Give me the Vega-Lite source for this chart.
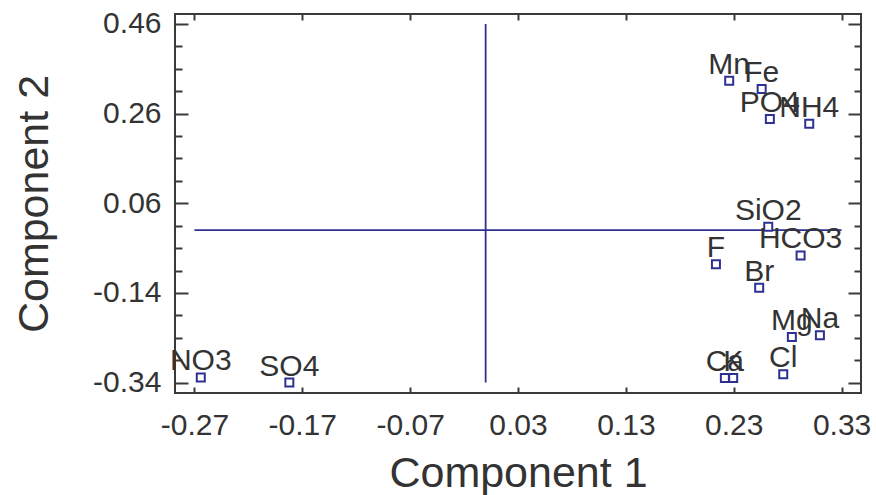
{
  "$schema": "https://vega.github.io/schema/vega-lite/v6.json",
  "width": 686,
  "height": 379,
  "autosize": "none",
  "padding": {"left": 175, "top": 14, "right": 15, "bottom": 102},
  "background": "white",
  "config": {
    "view": {"stroke": "#3a3a3a", "strokeWidth": 2},
    "font": "Liberation Sans",
    "axis": {"grid": false, "domain": false, "tickColor": "#3a3a3a", "tickWidth": 2, "labelColor": "#333333", "titleColor": "#333333", "labelFont": "Liberation Sans", "titleFont": "Liberation Sans", "titleFontWeight": "normal", "labelFontSize": 30, "titleFontSize": 43}
  },
  "datasets": {
    "points": [
      {"name": "Mn", "c1": 0.2258, "c2": 0.3334},
      {"name": "Fe", "c1": 0.2559, "c2": 0.3149},
      {"name": "PO4", "c1": 0.2635, "c2": 0.248},
      {"name": "NH4", "c1": 0.300, "c2": 0.2375},
      {"name": "SiO2", "c1": 0.262, "c2": 0.0076},
      {"name": "HCO3", "c1": 0.292, "c2": -0.0563},
      {"name": "F", "c1": 0.2135, "c2": -0.0757},
      {"name": "Br", "c1": 0.2536, "c2": -0.1286},
      {"name": "Mg", "c1": 0.2839, "c2": -0.238},
      {"name": "Na", "c1": 0.3099, "c2": -0.2342},
      {"name": "Cl", "c1": 0.2759, "c2": -0.3213},
      {"name": "Ca", "c1": 0.2218, "c2": -0.3295},
      {"name": "K", "c1": 0.2295, "c2": -0.3295},
      {"name": "NO3", "c1": -0.2641, "c2": -0.3286},
      {"name": "SO4", "c1": -0.182, "c2": -0.3398}
    ],
    "hline": [{"x": -0.27, "x2": 0.33, "y": 0}],
    "vline": [{"x": 0, "y": -0.34, "y2": 0.46}]
  },
  "layer": [
    {
      "data": {"name": "hline"},
      "mark": {"type": "rule", "color": "#2e3192", "strokeWidth": 1.8},
      "encoding": {
        "x": {"field": "x", "type": "quantitative", "scale": {"domain": [-0.288, 0.348], "nice": false, "zero": false}, "axis": null},
        "x2": {"field": "x2"},
        "y": {"field": "y", "type": "quantitative", "scale": {"domain": [-0.3632, 0.4823], "nice": false, "zero": false}, "axis": null}
      }
    },
    {
      "data": {"name": "vline"},
      "mark": {"type": "rule", "color": "#2e3192", "strokeWidth": 1.8},
      "encoding": {
        "x": {"field": "x", "type": "quantitative", "scale": {"domain": [-0.288, 0.348], "nice": false, "zero": false}, "axis": null},
        "y": {"field": "y", "type": "quantitative", "scale": {"domain": [-0.3632, 0.4823], "nice": false, "zero": false}, "axis": null},
        "y2": {"field": "y2"}
      }
    },
    {
      "data": {"name": "points"},
      "mark": {"type": "point", "shape": "square", "size": 64, "filled": false, "fill": "white", "fillOpacity": 1, "stroke": "#2e3192", "strokeWidth": 2, "opacity": 1},
      "encoding": {
        "x": {"field": "c1", "type": "quantitative", "scale": {"domain": [-0.288, 0.348], "nice": false, "zero": false},
          "axis": {"orient": "bottom", "title": "Component 1", "values": [-0.27, -0.17, -0.07, 0.03, 0.13, 0.23, 0.33], "tickSize": -6, "labelPadding": 23, "labelExpr": "replace(format(datum.value, '.2f'), '\u2212', '-')", "titlePadding": 12, "labelFlush": false, "labelOverlap": false}},
        "y": {"field": "c2", "type": "quantitative", "scale": {"domain": [-0.3632, 0.4823], "nice": false, "zero": false},
          "axis": {"orient": "left", "title": "Component 2", "values": [-0.34, -0.29, -0.24, -0.19, -0.14, -0.09, -0.04, 0.01, 0.06, 0.11, 0.16, 0.21, 0.26, 0.31, 0.36, 0.41, 0.46],
            "tickSize": {"condition": {"test": "indexof([-0.34, -0.14, 0.06, 0.26, 0.46], datum.value) >= 0", "value": -13}, "value": -7},
            "labelPadding": 27, "labelExpr": "indexof([-0.34, -0.14, 0.06, 0.26, 0.46], datum.value) >= 0 ? replace(format(datum.value, '.2f'), '\u2212', '-') : ''", "titlePadding": 36, "labelFlush": false, "labelOverlap": false}}
      }
    },
    {
      "data": {"name": "points"},
      "mark": {"type": "text", "align": "center", "baseline": "alphabetic", "dy": -7, "fontSize": 30, "color": "#333333", "font": "Liberation Sans"},
      "encoding": {
        "text": {"field": "name"},
        "x": {"field": "c1", "type": "quantitative", "scale": {"domain": [-0.288, 0.348], "nice": false, "zero": false},
          "axis": {"orient": "top", "title": null, "labels": false, "values": [-0.27, -0.17, -0.07, 0.03, 0.13, 0.23, 0.33], "tickSize": -6}},
        "y": {"field": "c2", "type": "quantitative", "scale": {"domain": [-0.3632, 0.4823], "nice": false, "zero": false},
          "axis": {"orient": "right", "title": null, "labels": false, "values": [-0.34, -0.29, -0.24, -0.19, -0.14, -0.09, -0.04, 0.01, 0.06, 0.11, 0.16, 0.21, 0.26, 0.31, 0.36, 0.41, 0.46],
            "tickSize": {"condition": {"test": "indexof([-0.34, -0.14, 0.06, 0.26, 0.46], datum.value) >= 0", "value": -13}, "value": -7}}}
      }
    }
  ],
  "resolve": {"axis": {"x": "independent", "y": "independent"}}
}
